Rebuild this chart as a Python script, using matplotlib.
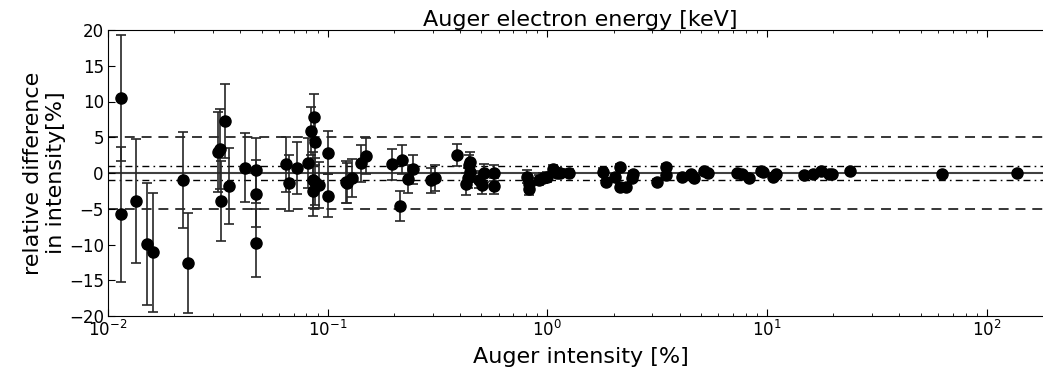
import numpy as np
import matplotlib
matplotlib.use("Agg")
import matplotlib.pyplot as plt

# Auger intensity [%], relative difference [%], uncertainty [%]
intensity = [0.0114, 0.0114, 0.0134, 0.0151, 0.0161, 0.0220, 0.0232,
             0.0316, 0.0322, 0.0326, 0.0340, 0.0356, 0.0420, 0.0472,
             0.0471, 0.0471, 0.0647, 0.0666, 0.0724, 0.0813, 0.0841,
             0.0867, 0.0876, 0.0853, 0.0853, 0.0876, 0.0914, 0.1000,
             0.1003, 0.1210, 0.1230, 0.1290, 0.1417, 0.1490, 0.196,
             0.218, 0.214, 0.233, 0.244, 0.296, 0.309, 0.387, 0.427,
             0.433, 0.438, 0.445, 0.445, 0.487, 0.506, 0.513, 0.573,
             0.569, 0.807, 0.822, 0.822, 0.913, 0.955, 0.997, 1.057,
             1.107, 1.146, 1.26, 1.795, 1.85, 2.02, 2.13, 2.14, 2.27,
             2.45, 2.42, 3.14, 3.45, 3.45, 4.08, 4.48, 4.64, 5.15, 5.37,
             7.31, 7.71, 8.26, 9.4, 9.6, 10.66, 11.0, 14.7, 16.1, 17.5,
             19.1, 19.7, 23.9, 62.8, 137.0]
rel_diff = [10.5, -5.8, -3.9, -9.9, -11.1, -1.0, -12.6,
            3.0, 3.4, -3.9, 7.3, -1.8, 0.75, 0.35,
            -2.9, -9.8, 1.2, -1.4, 0.7, 1.4, 5.9,
            7.8, 4.4, -1.0, -2.5, -1.2, -1.7, 2.85,
            -3.2, -1.25, -1.45, -0.7, 1.35, 2.35, 1.2,
            1.85, -4.6, -0.85, 0.5, -1.0, -0.65, 2.5, -1.55,
            -0.75, 1.1, 1.55, 0.2, -0.95, -1.7, 0.0, 0.0,
            -1.8, -0.5, -2.3, -1.55, -1.0, -0.65, -0.5, 0.5,
            0.05, 0.0, 0.0, 0.2, -1.2, -0.6, 0.8, -1.9, -2.0,
            -0.15, -0.75, -1.2, 0.9, -0.3, -0.5, -0.15, -0.75, 0.33, 0.05,
            0.0, -0.15, -0.75, 0.33, 0.2, -0.5, -0.15, -0.28, -0.15, 0.33,
            -0.15, -0.15, 0.33, -0.2, -0.05]
uncert = [8.8, 9.5, 8.7, 8.5, 8.3, 6.7, 7.0,
          5.6, 5.6, 5.6, 5.2, 5.3, 4.8, 4.6,
          4.7, 4.8, 3.9, 3.9, 3.7, 3.5, 3.4,
          3.2, 3.3, 3.9, 3.5, 3.3, 3.2, 3.0,
          3.0, 2.9, 2.8, 2.7, 2.6, 2.5, 2.2,
          2.0, 2.1, 2.0, 2.0, 1.75, 1.8, 1.55, 1.5,
          1.4, 1.4, 1.4, 1.4, 1.2, 1.2, 1.2, 1.1,
          1.1, 0.9, 0.8, 0.8, 0.7, 0.7, 0.7, 0.6,
          0.6, 0.5, 0.5, 0.5, 0.5, 0.4, 0.4, 0.4, 0.4,
          0.4, 0.4, 0.3, 0.3, 0.3, 0.3, 0.3, 0.3, 0.2, 0.2,
          0.2, 0.2, 0.2, 0.2, 0.2, 0.2, 0.2, 0.1, 0.1, 0.1,
          0.1, 0.1, 0.1, 0.1, 0.1]

plt.rcParams['xtick.direction'] = 'in'
plt.rcParams['ytick.direction'] = 'in'
plt.rcParams['xtick.top'] = True
plt.rcParams['ytick.right'] = True
plt.rcParams['xtick.major.size'] = 5
plt.rcParams['xtick.minor.size'] = 2.5
plt.rcParams['ytick.major.size'] = 5
plt.rcParams['ytick.minor.size'] = 2.5

fig = plt.figure(figsize=(10.43, 3.73), dpi=100)
# axes runs a little past the right edge, as in the cropped original
ax = fig.add_axes([108 / 1043, 1 - 316 / 373, 945 / 1043, 286 / 373])

ax.axhline(0, color='0.25', lw=1.5, zorder=1)
for lev in (5, -5):
    ax.axhline(lev, color='k', lw=1.1, dashes=(6.5, 4.5), zorder=1)
for lev in (1, -1):
    ax.axhline(lev, color='k', lw=1.0, dashes=(5, 3, 1.2, 3), zorder=1)

ax.errorbar(intensity, rel_diff, yerr=uncert, fmt='o', color='k',
            ecolor='0.15', elinewidth=1.2, capsize=3.5, capthick=1.2,
            markersize=8, zorder=3)

ax.set_xscale('log')
ax.set_xlim(1e-2, 2e2)
ax.set_ylim(-20, 20)
ax.set_yticks(np.arange(-20, 21, 5))
ax.tick_params(labelsize=12, pad=3)
ax.set_xlabel('Auger intensity [%]', fontsize=16, labelpad=5)
ax.set_ylabel('relative difference\nin intensity[%]', fontsize=16,
              multialignment='center', labelpad=2)
ax.set_title('Auger electron energy [keV]', fontsize=16, pad=2)

fig.savefig('out.png', dpi=100)
